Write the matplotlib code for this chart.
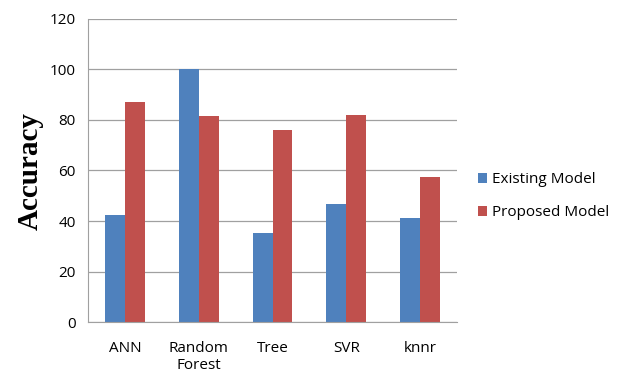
import numpy as np
import matplotlib
matplotlib.use("Agg")
import matplotlib.pyplot as plt

# data
categories = ["ANN", "Random\nForest", "Tree", "SVR", "knnr"]
existing = [42.3, 100, 35.2, 46.8, 41.3]
proposed = [87.0, 81.5, 76.0, 82.0, 57.5]
series_names = ["Existing Model", "Proposed Model"]
yticks = [0, 20, 40, 60, 80, 100, 120]

plt.rcParams['font.family'] = ['Open Sans', 'DejaVu Sans']

fig = plt.figure(figsize=(6.26, 3.76), dpi=100)
ax = fig.add_axes([0.1406, 0.1436, 0.5895, 0.8059])

x = np.arange(len(categories))
w = 0.27
ax.bar(x - w / 2, existing, w, color="#4F81BD", label=series_names[0], zorder=2)
ax.bar(x + w / 2, proposed, w, color="#C0504D", label=series_names[1], zorder=2)

ax.set_xlim(-0.5, len(categories) - 0.5)
ax.set_ylim(0, 120)
ax.set_yticks(yticks)
ax.set_xticks(x)
ax.set_xticklabels(categories, fontsize=11, linespacing=1.1)
ax.tick_params(axis="y", labelsize=11, length=0, pad=9)
ax.tick_params(axis="x", length=0, pad=14)
ax.grid(axis="y", color="#A0A0A0", linewidth=0.9, zorder=0)

for side in ["top", "right"]:
    ax.spines[side].set_visible(False)
ax.spines["left"].set_color("#A0A0A0")
ax.spines["bottom"].set_color("#A0A0A0")

fig.text(0.048, 0.545, "Accuracy", rotation=90, fontsize=21, fontweight="bold",
         family="Liberation Serif", ha="center", va="center")

ax.legend(loc="center left", bbox_to_anchor=(1.02, 0.415), frameon=False,
          fontsize=11, handlelength=0.6, handleheight=0.6, handletextpad=0.3,
          labelspacing=1.2)

fig.savefig("out.png", dpi=100)
